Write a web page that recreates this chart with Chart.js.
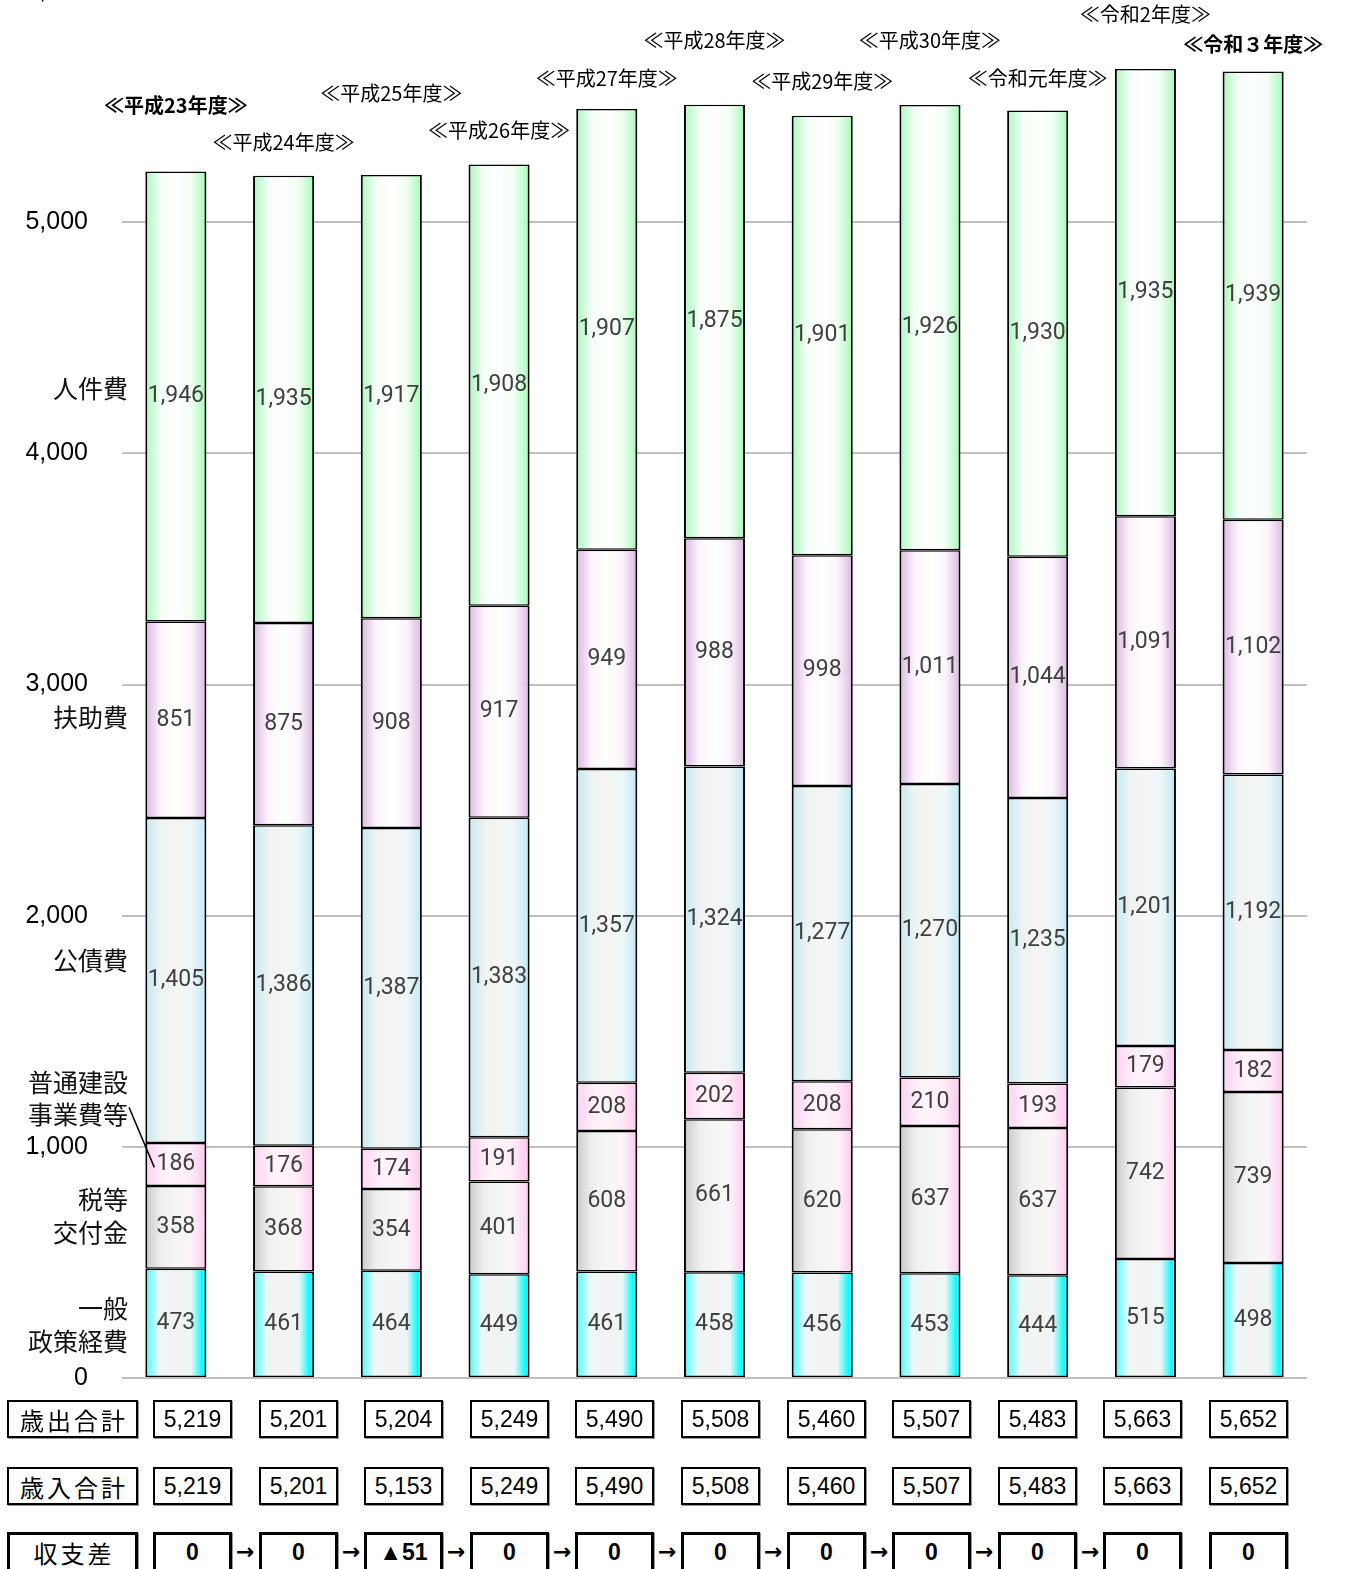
<!DOCTYPE html>
<html lang="ja">
<head>
<meta charset="utf-8">
<title>歳出の推移</title>
<script src="https://cdn.jsdelivr.net/npm/chart.js@4.4.1/dist/chart.umd.min.js"></script>
<style>
  html, body { margin: 0; padding: 0; background: #fff; }
  #wrap { position: relative; width: 1345px; height: 1569px; overflow: hidden; }
  /* o eixo y reserva ~49px em cima e ~52px embaixo (meia altura do rótulo + padding 34) */
  #chartBox { position: absolute; left: 0; top: -58px; width: 1345px; height: 1485px; }
  .box {
    position: absolute; box-sizing: border-box; height: 38px;
    border: 2px solid #000; box-shadow: 1px 1px 0 #999;
    display: flex; align-items: center; justify-content: center;
    font: 23px "Liberation Sans", Arial, sans-serif; color: #000; background: #fff;
  }
  .lbl { font: 24px "Noto Sans CJK JP", sans-serif; letter-spacing: 3px; padding-left: 3px; }
  .grossa { border-width: 3px; height: 40px; }
  .negrito { font-weight: bold; }
  .arrow { position: absolute; font: bold 22px "DejaVu Sans", sans-serif; color: #000; line-height: 22px; }
</style>
</head>
<body>
<div id="wrap">
  <div id="chartBox"><canvas id="chartGaikyo"></canvas></div>
  <div id="tabela"></div>
</div>
<script>
// --- DADOS (億円) ---
const anos = ['平成23年度', '平成24年度', '平成25年度', '平成26年度', '平成27年度', '平成28年度',
              '平成29年度', '平成30年度', '令和元年度', '令和2年度', '令和３年度'];
const ippanSeisaku = [473, 461, 464, 449, 461, 458, 456, 453, 444, 515, 498];
const zeitoKofukin = [358, 368, 354, 401, 608, 661, 620, 637, 637, 742, 739];
const futsuKensetsu = [186, 176, 174, 191, 208, 202, 208, 210, 193, 179, 182];
const kosaihi = [1405, 1386, 1387, 1383, 1357, 1324, 1277, 1270, 1235, 1201, 1192];
const fujohi = [851, 875, 908, 917, 949, 988, 998, 1011, 1044, 1091, 1102];
const jinkenhi = [1946, 1935, 1917, 1908, 1907, 1875, 1901, 1926, 1930, 1935, 1939];
const saishutsuGokei = [5219, 5201, 5204, 5249, 5490, 5508, 5460, 5507, 5483, 5663, 5652];
const sainyuGokei = [5219, 5201, 5153, 5249, 5490, 5508, 5460, 5507, 5483, 5663, 5652];
const yTicks = [0, 1000, 2000, 3000, 4000, 5000, 6000];

// rótulos dos anos: altura (em unidades do eixo y) e quais ficam em negrito
const anoLabelY = [5503, 5347, 5555, 5395, 5624, 5785, 5607, 5785, 5624, 5898, 5768];
const anoNegrito = [true, false, false, false, false, false, false, false, false, false, true];
// rótulos laterais das categorias
const ladoTexto = ['人件費', '扶助費', '公債費', '普通建設', '事業費等', '税等', '交付金', '一般', '政策経費'];
const ladoY = [4280, 2858, 1808, 1279, 1140, 772, 629, 299, 156];

const BAR_PCT = 0.567;
const fmt = v => v.toLocaleString('en-US');

// gradiente horizontal em cada barra (bordas coloridas, centro claro)
function gradiente(stops) {
    return (c) => {
        const chart = c.chart;
        if (!chart.chartArea || c.type !== 'data') return stops[2][1];
        const xs = chart.scales.x;
        const cx = xs.getPixelForValue(c.dataIndex);
        const meia = xs.width / anos.length * BAR_PCT / 2;
        const g = chart.ctx.createLinearGradient(cx - meia, 0, cx + meia, 0);
        stops.forEach(([o, cor]) => g.addColorStop(o, cor));
        return g;
    };
}

const series = [
    { label: '一般政策経費', data: ippanSeisaku,
      stops: [[0, '#40ffff'], [0.22, '#eef6f6'], [0.5, '#f3f3f3'], [0.75, '#eef6f6'], [0.93, '#00ffff'], [1, '#50ffff']] },
    { label: '税等交付金', data: zeitoKofukin,
      stops: [[0, '#c8c8c8'], [0.25, '#eeeeee'], [0.5, '#f5f5f5'], [0.75, '#fbf4f9'], [1, '#ffc8f0']] },
    { label: '普通建設事業費等', data: futsuKensetsu,
      stops: [[0, '#ffd0f2'], [0.3, '#fff0fa'], [0.5, '#fff4fb'], [0.75, '#ffeaf8'], [1, '#ffc4ee']] },
    { label: '公債費', data: kosaihi,
      stops: [[0, '#c4eaf0'], [0.25, '#eef2f2'], [0.5, '#f5f5f5'], [0.75, '#eef6f8'], [1, '#bdeaf4']] },
    { label: '扶助費', data: fujohi,
      stops: [[0, '#dab8e0'], [0.25, '#fcf4fc'], [0.5, '#ffffff'], [0.75, '#fcf4fc'], [1, '#dab8e0']] },
    { label: '人件費', data: jinkenhi,
      stops: [[0, '#a8f8bc'], [0.25, '#f4fef6'], [0.5, '#ffffff'], [0.75, '#f2fef4'], [1, '#a0fcb4']] },
];

// desenha valores, anos, rótulos laterais e linha-guia
const overlayPlugin = {
    id: 'overlay',
    afterDatasetsDraw(chart) {
        const { ctx, chartArea, scales: { x, y } } = chart;
        ctx.save();
        ctx.textAlign = 'center';
        ctx.textBaseline = 'middle';

        ctx.font = '23px Roboto, "Liberation Sans", sans-serif';
        ctx.fillStyle = '#404040';
        chart.data.datasets.forEach((ds, di) => {
            chart.getDatasetMeta(di).data.forEach((bar, i) => {
                ctx.fillText(fmt(ds.data[i]), bar.x, (bar.y + bar.base) / 2);
            });
        });

        ctx.fillStyle = '#000';
        anos.forEach((ano, i) => {
            ctx.font = (anoNegrito[i] ? 'bold ' : '') + '20px "Noto Sans CJK JP", sans-serif';
            ctx.fillText('≪' + ano + '≫', x.getPixelForValue(i), y.getPixelForValue(anoLabelY[i]));
        });

        ctx.textAlign = 'right';
        ctx.font = '25px "Noto Sans CJK JP", sans-serif';
        ctx.fillStyle = '#111';
        ladoTexto.forEach((t, i) => {
            ctx.fillText(t, chartArea.left + 6, y.getPixelForValue(ladoY[i]));
        });

        // linha-guia de 普通建設事業費等 até a primeira barra
        const bar0 = chart.getDatasetMeta(2).data[0];
        ctx.strokeStyle = '#000';
        ctx.lineWidth = 1.5;
        ctx.beginPath();
        ctx.moveTo(chartArea.left + 7, y.getPixelForValue(1171));
        ctx.lineTo(bar0.x - bar0.width / 2 + 9, y.getPixelForValue(911));
        ctx.stroke();
        ctx.restore();
    }
};

new Chart(document.getElementById('chartGaikyo').getContext('2d'), {
    type: 'bar',
    data: {
        labels: anos,
        datasets: series.map(s => ({
            label: s.label,
            data: s.data,
            backgroundColor: gradiente(s.stops),
            borderColor: '#000',
            borderWidth: { left: 2, right: 2, top: 1.5, bottom: 1.5 },
            borderSkipped: false,
            barPercentage: BAR_PCT,
            categoryPercentage: 1.0
        }))
    },
    options: {
        locale: 'en-US',
        responsive: true,
        maintainAspectRatio: false,
        animation: false,
        events: [],
        layout: { padding: { top: 0, bottom: 0, left: 0, right: 38 } },
        plugins: { legend: { display: false }, tooltip: { enabled: false } },
        scales: {
            x: { stacked: true, display: false },
            y: {
                stacked: true,
                min: 0,
                max: 6000,
                afterBuildTicks: (s) => { s.ticks = yTicks.map(v => ({ value: v })); },
                afterFit: (s) => { s.width = 122; },
                ticks: {
                    padding: 34,
                    color: '#000',
                    font: { family: '"Liberation Sans", Arial, sans-serif', size: 25 },
                    callback: (v) => fmt(v)
                },
                grid: { color: '#c0c0c0', lineWidth: 2, drawTicks: false },
                border: { display: false }
            }
        }
    },
    plugins: [overlayPlugin]
});

// --- TABELA INFERIOR ---
const tabela = document.getElementById('tabela');
const saldo = sainyuGokei.map((r, i) => {
    const d = r - saishutsuGokei[i];
    return d < 0 ? '▲' + fmt(-d) : fmt(d);
});
const linhas = [
    { titulo: '歳出合計', top: 1400, valores: saishutsuGokei.map(fmt), grossa: false },
    { titulo: '歳入合計', top: 1467, valores: sainyuGokei.map(fmt), grossa: false },
    { titulo: '収支差', top: 1532, valores: saldo, grossa: true },
];
function caixa(txt, left, top, width, extra) {
    const d = document.createElement('div');
    d.className = 'box' + (extra ? ' ' + extra : '');
    d.style.left = left + 'px';
    d.style.top = top + 'px';
    d.style.width = width + 'px';
    d.textContent = txt;
    tabela.appendChild(d);
}
linhas.forEach(l => {
    caixa(l.titulo, 7, l.top, 131, 'lbl' + (l.grossa ? ' grossa' : ''));
    l.valores.forEach((v, i) => {
        const left = Math.round(153 + i * 105.6);
        caixa(v, left, l.top, 79, l.grossa ? 'grossa negrito' : '');
        if (l.grossa && i < l.valores.length - 2) {
            const a = document.createElement('div');
            a.className = 'arrow';
            a.textContent = '→';
            a.style.left = (left + 83) + 'px';
            a.style.top = (l.top + 9) + 'px';
            tabela.appendChild(a);
        }
    });
});
</script>
</body>
</html>
